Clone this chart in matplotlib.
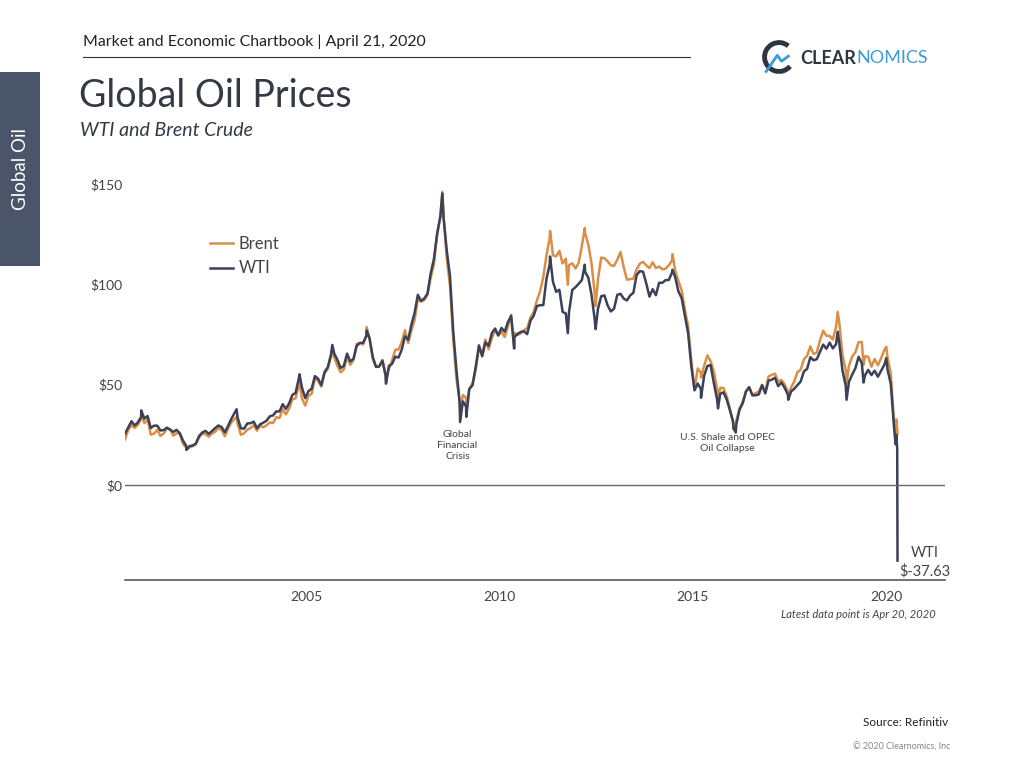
import numpy as np
import matplotlib.pyplot as plt
from matplotlib.patches import Rectangle, Arc
from matplotlib.lines import Line2D

plt.rcParams['font.family'] = ['Lato', 'DejaVu Sans']

# monthly WTI / Brent prices ($/bbl), Apr 2000 .. Mar 2020
first_year, first_month = 2000, 4
wti_monthly = [
    25.7, 28.8, 31.8, 29.7, 31.3, 33.9, 33.1, 34.4, 28.4,                  # 2000
    29.6, 29.6, 27.2, 27.4, 28.6, 27.6, 26.5, 27.5, 25.9, 22.2, 19.6, 19.4,  # 2001
    19.7, 20.7, 24.4, 26.2, 27.0, 25.5, 26.9, 28.4, 29.7, 28.9, 26.3, 29.4,  # 2002
    32.9, 35.9, 33.5, 28.3, 28.1, 30.7, 30.8, 31.6, 28.3, 30.3, 31.1, 32.1,  # 2003
    34.3, 34.7, 36.7, 36.7, 40.3, 38.0, 40.7, 44.9, 45.9, 53.1, 48.5, 43.3,  # 2004
    46.8, 48.0, 54.3, 53.0, 49.8, 56.3, 58.7, 65.0, 65.6, 62.4, 58.3, 59.4,  # 2005
    65.5, 61.6, 62.9, 69.4, 70.8, 70.9, 74.4, 73.0, 63.8, 58.9, 59.1, 62.0,  # 2006
    54.5, 59.3, 60.4, 64.0, 63.5, 67.5, 74.1, 72.4, 79.9, 85.8, 94.8, 91.7,  # 2007
    93.0, 95.4, 105.5, 112.6, 125.4, 133.9, 133.4, 116.7, 104.1, 76.6, 57.3, 41.1,  # 2008
    41.7, 39.1, 47.9, 49.7, 59.0, 69.6, 64.2, 71.1, 69.4, 75.7, 78.0, 74.5,  # 2009
    78.3, 76.4, 81.2, 84.3, 73.7, 75.3, 76.3, 76.6, 75.2, 81.9, 84.3, 89.2,  # 2010
    89.6, 89.7, 102.9, 110.0, 101.3, 96.3, 97.3, 86.3, 85.5, 86.3, 97.2, 98.6,  # 2011
    100.3, 102.2, 106.2, 103.3, 94.7, 82.3, 87.9, 94.1, 94.5, 89.5, 86.5, 87.9,  # 2012
    94.8, 95.3, 92.9, 92.0, 94.5, 95.8, 104.6, 106.6, 106.3, 100.5, 93.9, 97.6,  # 2013
    94.6, 100.8, 100.8, 102.1, 102.2, 105.8, 103.6, 96.5, 93.2, 84.4, 75.8, 59.3,  # 2014
    47.2, 50.6, 47.8, 54.5, 59.3, 59.8, 50.9, 42.9, 45.5, 46.2, 42.7, 37.3,  # 2015
    31.7, 30.3, 37.6, 40.8, 46.7, 48.8, 44.7, 44.7, 45.2, 49.8, 45.7, 52.0,  # 2016
    52.5, 53.5, 49.3, 51.1, 48.5, 45.2, 46.6, 48.0, 49.8, 51.6, 56.6, 57.9,  # 2017
    63.7, 62.2, 62.7, 66.3, 70.0, 67.9, 71.0, 68.1, 70.2, 70.8, 57.0, 49.5,  # 2018
    51.4, 55.0, 58.2, 63.9, 60.8, 54.7, 57.4, 54.8, 57.0, 54.0, 57.0, 59.9,  # 2019
    57.5, 50.5, 29.2,                                                        # 2020
]
brent_monthly = [
    22.8, 27.6, 29.8, 28.5, 30.0, 33.1, 30.9, 32.5, 25.1,                  # 2000
    25.6, 27.5, 24.5, 25.7, 28.1, 27.8, 24.6, 25.8, 25.6, 20.5, 18.8, 18.7,  # 2001
    19.4, 20.3, 23.7, 25.7, 25.4, 24.1, 25.7, 26.6, 28.4, 27.5, 24.3, 28.0,  # 2002
    31.2, 32.8, 30.4, 25.0, 25.8, 27.6, 28.4, 29.8, 27.1, 29.6, 28.8, 29.8,  # 2003
    31.2, 30.9, 33.8, 33.4, 37.9, 35.2, 38.2, 42.7, 43.2, 49.8, 43.1, 39.6,  # 2004
    44.5, 45.5, 53.1, 51.9, 49.0, 55.6, 57.9, 63.8, 63.7, 59.4, 56.2, 57.6,  # 2005
    63.9, 59.9, 62.3, 70.4, 70.8, 70.0, 74.4, 73.1, 62.8, 58.9, 59.1, 62.3,  # 2006
    54.3, 57.8, 62.1, 67.5, 67.5, 71.3, 77.2, 70.8, 77.1, 82.3, 92.5, 91.5,  # 2007
    92.2, 94.8, 103.3, 110.2, 124.6, 133.5, 133.9, 113.0, 99.1, 72.8, 53.2, 41.6,  # 2008
    44.9, 43.4, 47.7, 50.7, 57.4, 68.6, 64.9, 72.5, 67.7, 73.2, 77.0, 74.7,  # 2009
    76.2, 73.8, 78.8, 84.8, 75.9, 74.8, 75.6, 77.1, 78.2, 83.5, 86.1, 92.0,  # 2010
    96.5, 103.7, 114.6, 123.3, 114.5, 113.9, 116.7, 110.4, 112.8, 109.6, 110.5, 107.9,  # 2011
    110.7, 119.3, 125.5, 119.8, 110.3, 95.2, 102.6, 113.4, 113.0, 111.5, 109.5, 109.2,  # 2012
    112.3, 116.1, 108.5, 102.3, 102.6, 102.9, 107.4, 110.3, 111.2, 109.5, 108.1, 111.0,  # 2013
    108.1, 108.9, 107.5, 107.8, 109.5, 111.8, 106.8, 101.6, 97.1, 87.4, 79.4, 62.3,  # 2014
    47.8, 58.1, 55.9, 59.5, 64.6, 61.7, 56.8, 48.2, 48.5, 48.3, 44.3, 38.0,  # 2015
    30.7, 32.2, 38.2, 41.6, 46.7, 48.3, 44.9, 45.8, 46.6, 49.9, 46.4, 54.1,  # 2016
    54.9, 55.5, 51.6, 52.3, 50.3, 46.4, 48.5, 51.7, 56.2, 57.5, 62.7, 64.4,  # 2017
    69.1, 65.3, 66.0, 72.1, 76.9, 74.4, 74.3, 72.5, 78.9, 81.0, 64.8, 57.4,  # 2018
    59.4, 64.0, 66.1, 71.2, 71.3, 64.2, 63.9, 59.0, 62.8, 59.7, 63.2, 67.3,  # 2019
    63.6, 55.7, 32.0,                                                        # 2020
]

# daily highs / lows and the last days of data (decimal year, WTI, Brent)
extreme_dates = [2000.71, 2001.88, 2003.18, 2004.81, 2005.66, 2006.55, 2007.05,
                 2008.51, 2008.97, 2009.13, 2010.37, 2011.30, 2011.76, 2012.20,
                 2012.48, 2014.47, 2015.21, 2015.65, 2016.05, 2016.11, 2017.47,
                 2018.75, 2018.98, 2019.42, 2020.01, 2020.25, 2020.268, 2020.292,
                 2020.30]
extreme_wti = [37.2, 17.5, 37.8, 55.2, 69.8, 77.0, 50.5,
               145.3, 31.4, 34.0, 68.0, 113.9, 75.7, 109.8,
               77.7, 107.3, 43.5, 38.2, 28.5, 26.2, 42.5,
               76.4, 42.5, 51.1, 63.3, 20.3, 25.1, 18.3,
               -37.63]
extreme_brent = [34.5, 17.7, 34.0, 51.0, 67.0, 78.7, 51.7,
                 146.1, 36.6, 39.6, 69.6, 126.6, 99.8, 128.1,
                 89.2, 115.1, 53.5, 42.7, 27.9, 30.1, 44.8,
                 86.3, 50.5, 59.9, 68.9, 24.7, 32.8, 28.1,
                 25.6]

months = np.arange(len(wti_monthly)) + (first_month - 1)
monthly_dates = first_year + (months + 0.5) / 12

dates = np.concatenate([monthly_dates, extreme_dates])
wti = np.concatenate([wti_monthly, extreme_wti])
brent = np.concatenate([brent_monthly, extreme_brent])
order = np.argsort(dates)
dates, wti, brent = dates[order], wti[order], brent[order]

navy = '#3b4158'
orange = '#d98f45'
text_c = '#444444'

fig = plt.figure(figsize=(10.3, 7.71), dpi=100)
W, H = 1030, 771

def fx(px):
    return px / W

def fy(py):
    return 1 - py / H

# ----- header -----
fig.text(fx(83), fy(42), 'Market and Economic Chartbook | April 21, 2020',
         fontsize=11.4, color='#222222', va='center')
fig.add_artist(Line2D([fx(83), fx(690)], [fy(57), fy(57)], color='#333333', lw=0.8))

# sidebar
fig.add_artist(Rectangle((0, fy(266)), fx(40), (266 - 72) / H, color='#4a5569', lw=0))
fig.text(fx(20), fy(169), 'Global Oil', rotation=90, color='white', fontsize=13.5,
         ha='center', va='center')

# logo
logo = fig.add_axes([fx(762), fy(74), fx(34), 34 / H])
logo.set_xlim(-1, 1)
logo.set_ylim(-1, 1)
logo.set_aspect('equal')
logo.axis('off')
logo.add_patch(Arc((0, 0), 1.7, 1.7, theta1=50, theta2=320, color='#2f3540', lw=3.5))
logo.plot([-0.75, -0.1, 0.15, 0.55], [-0.85, 0.1, -0.25, 0.05], color='#3d9ad6', lw=2)
t1 = fig.text(fx(800), fy(58), 'CLEAR', fontsize=13, color='#2f3540', va='center',
              fontweight='bold')
fig.canvas.draw()
fig.text(t1.get_window_extent().x1 / W, fy(58), 'NOMICS', fontsize=13, color='#3d9ad6',
         va='center')

# titles
fig.text(fx(79), fy(96), 'Global Oil Prices', fontsize=27, color='#333a44', va='center')
fig.text(fx(80), fy(130), 'WTI and Brent Crude', fontsize=14, color='#333a44',
         va='center', style='italic')

# ----- chart -----
ax = fig.add_axes([fx(125), fy(580), fx(945 - 125), (580 - 179) / H])
ax.plot(dates, brent, color=orange, lw=1.8, label='Brent')
ax.plot(dates, wti, color=navy, lw=1.8, label='WTI')
ax.axhline(0, color='#666a70', lw=1)

ax.set_xlim(2000.29, 2021.53)
ax.set_ylim(-47.3, 152.5)
ax.set_yticks([0, 50, 100, 150])
ax.set_yticklabels(['$0', '$50', '$100', '$150'])
ax.set_xticks([2005, 2010, 2015, 2020])
ax.set_xticklabels(['2005', '2010', '2015', '2020'])
ax.tick_params(length=0, labelsize=10, labelcolor=text_c)
ax.tick_params(axis='y', pad=2)
ax.tick_params(axis='x', pad=8)
for s in ['top', 'right', 'left']:
    ax.spines[s].set_visible(False)
ax.spines['bottom'].set_color('#555a62')
ax.spines['bottom'].set_linewidth(1.2)

leg = ax.legend(loc='upper left', bbox_to_anchor=(fx(210), fy(236)),
                bbox_transform=fig.transFigure, frameon=False, fontsize=12,
                handlelength=1.4, handletextpad=0.3, labelspacing=0.5,
                borderaxespad=0, borderpad=0)
for t in leg.get_texts():
    t.set_color(text_c)

ax.text(2008.9, 19.9, 'Global\nFinancial\nCrisis', fontsize=7.5, color=text_c,
        ha='center', va='center', linespacing=1.3)
ax.text(2015.9, 21, 'U.S. Shale and OPEC\nOil Collapse', fontsize=7.5, color=text_c,
        ha='center', va='center', linespacing=1.3)
ax.text(2021.0, -38.5, 'WTI\n$-37.63', fontsize=10.5, color=text_c, ha='center',
        va='center', linespacing=1.4)

fig.text(fx(936), fy(615), 'Latest data point is Apr 20, 2020', fontsize=8,
         color=text_c, ha='right', va='center', style='italic')
fig.text(fx(948), fy(723), 'Source: Refinitiv', fontsize=8.5, color='#222222',
         ha='right', va='center')
fig.text(fx(950), fy(747), '\u00a9 2020 Clearnomics, Inc', fontsize=6.5,
         color='#888888', ha='right', va='center')

fig.savefig('out.png', dpi=100)
